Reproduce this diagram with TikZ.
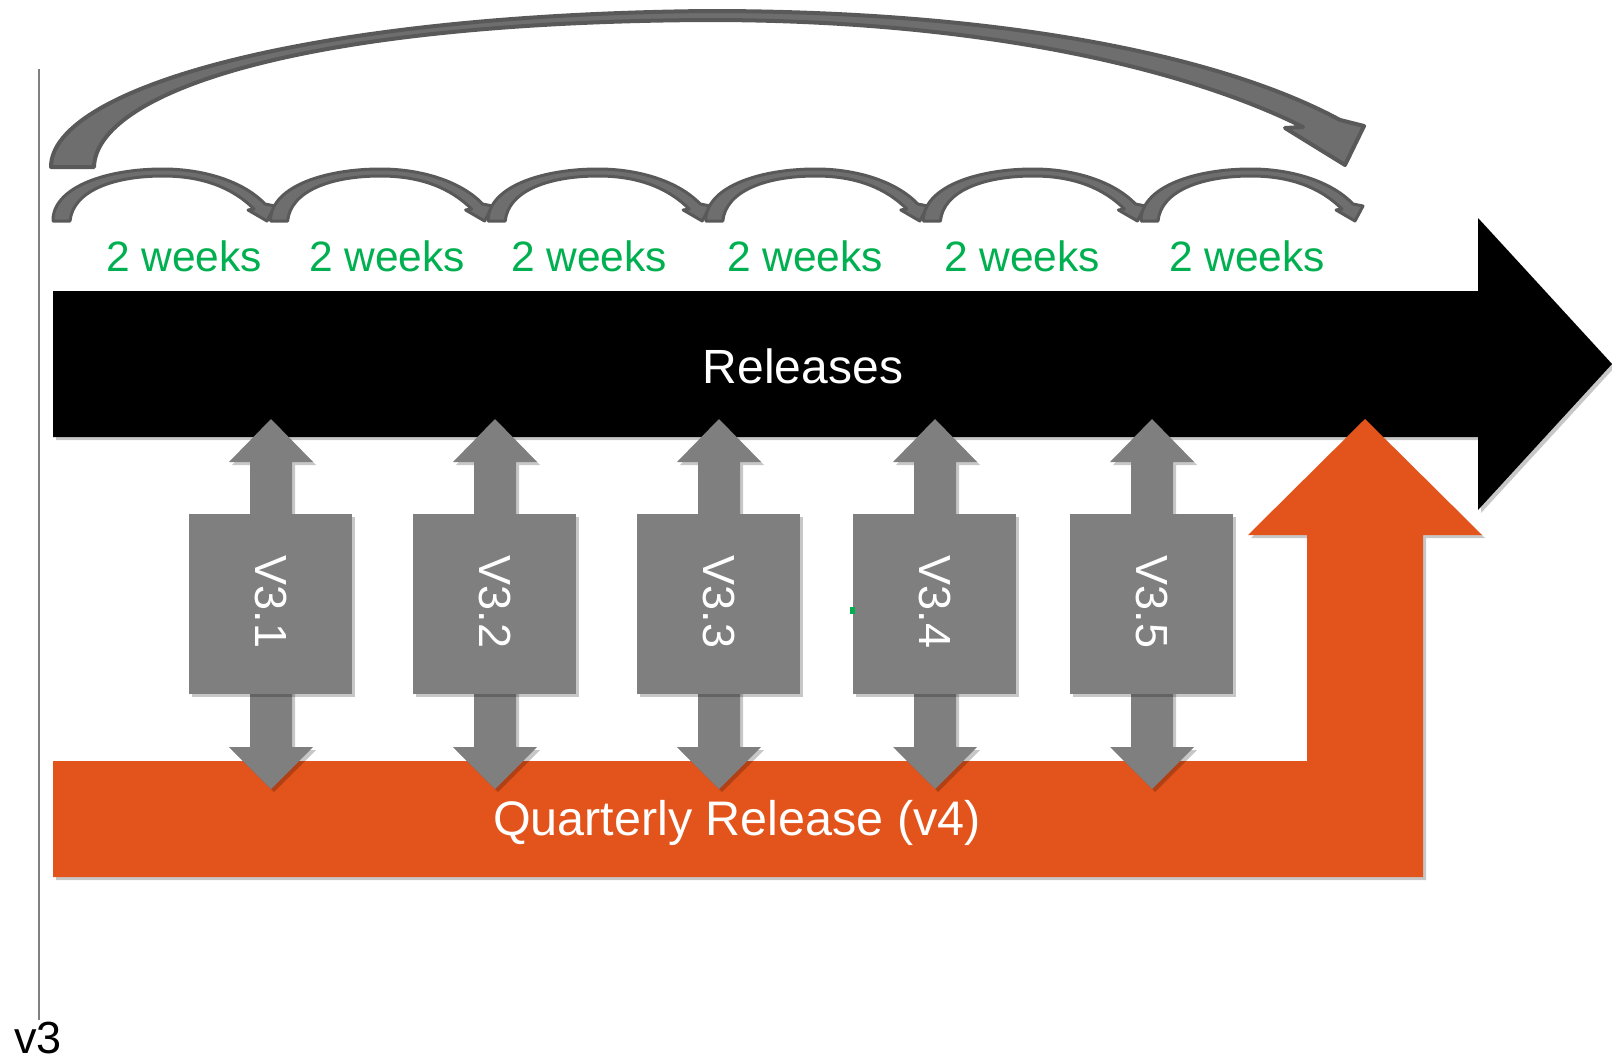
\documentclass[tikz,border=0pt]{standalone}
\usepackage{fontspec}
\setmainfont{Liberation Sans}
\usetikzlibrary{shadows}

\definecolor{relorange}{HTML}{E3541C}
\definecolor{vgray}{HTML}{7F7F7F}
\definecolor{hopfill}{HTML}{6E6E6E}
\definecolor{hopline}{HTML}{595959}
\definecolor{weekgreen}{HTML}{00B050}
\definecolor{axisgray}{HTML}{808080}

\tikzset{
  softshadow/.style={drop shadow={shadow xshift=3pt, shadow yshift=-3pt, opacity=0.22, fill=black}},
  hopstyle/.style={fill=hopfill, draw=hopline, line width=3, line join=round},
  bigarc/.style={fill=hopfill, draw=hopline, line width=4, line join=round},
  weeklabel/.style={text=weekgreen, font=\fontsize{42.5}{42.5}\selectfont, inner sep=0},
  verlabel/.style={text=white, font=\fontsize{45}{45}\selectfont, rotate=-90, inner sep=0},
  bandlabel/.style={text=white, font=\fontsize{48}{48}\selectfont, inner sep=0},
  % one two-week hop: origin at the bottom of its left foot
  hop/.pic={
    \filldraw[hopstyle] (0,0) -- (0,-3)
      .. controls (3,-35) and (55,-52) .. (110,-52)
      .. controls (150,-52) and (190,-40) .. (212,-17)
      -- (222,-15) -- (214,0) -- (195,-11) -- (201,-12)
      .. controls (180,-33) and (150,-45) .. (110,-45)
      .. controls (60,-45) and (20,-30) .. (17,0) -- cycle;
  },
  % up/down arrow with a version box on top, centred on x
  verpic/.pic={
    \fill[vgray, softshadow] (-21,462) -- (-42,462) -- (0,419) -- (42,462) -- (21,462)
      -- (21,747) -- (42,747) -- (0,789) -- (-42,747) -- (-21,747) -- cycle;
    \fill[vgray, softshadow] (-82,514) rectangle (81,694);
  }
}

\begin{document}
\begin{tikzpicture}[x=1pt, y=-1pt]
\useasboundingbox (0,0) rectangle (1612,1060);

% timeline axis on the left
\draw[axisgray, line width=2.5] (39,69) -- (39,1020);
\node[font=\fontsize{45}{45}\selectfont, inner sep=0] (vthree) at (38,1038) {v3};

% long quarterly hop
\filldraw[bigarc] (51,167)
  .. controls (51,90) and (300,15) .. (708,11)
  .. controls (1000,11) and (1220,55) .. (1340,120)
  -- (1364,126) -- (1345,165) -- (1285,128) -- (1303,127)
  .. controls (1200,75) and (1000,20) .. (708,20)
  .. controls (290,22) and (96,95) .. (94,167)
  -- cycle;

% two-week hops
\foreach \lx in {53, 270.6, 488.2, 705.8, 923.4, 1141} {
  \pic at (\lx,221) {hop};
}

% week labels
\node[weeklabel] (w1) at (184,256) {2 weeks};
\node[weeklabel] (w2) at (387,256) {2 weeks};
\node[weeklabel] (w3) at (589,256) {2 weeks};
\node[weeklabel] (w4) at (805,256) {2 weeks};
\node[weeklabel] (w5) at (1022,256) {2 weeks};
\node[weeklabel] (w6) at (1247,256) {2 weeks};

% releases band
\fill[black, softshadow] (53,291) -- (1478,291) -- (1478,218) -- (1612,364)
  -- (1478,510) -- (1478,437) -- (53,437) -- cycle;
\node[bandlabel] (rel) at (803,366) {Releases};

% quarterly release band turning upwards
\fill[relorange, softshadow] (53,761) -- (1307,761) -- (1307,535) -- (1248,535)
  -- (1365,419) -- (1482,535) -- (1423,535) -- (1423,877) -- (53,877) -- cycle;
\node[bandlabel, font=\fontsize{48.5}{48.5}\selectfont] (qrel) at (737,823) {Quarterly Release (v4)};

% minor versions
\foreach \cx/\v in {271/1, 495/2, 719/3, 935/4, 1152/5} {
  \pic at (\cx,0) {verpic};
  \node[verlabel] (ver\v) at (\cx,602) {V3.\v};
}

% stray mark beside V3.4
\fill[weekgreen] (850,607) rectangle (855,614);

\end{tikzpicture}
\end{document}
